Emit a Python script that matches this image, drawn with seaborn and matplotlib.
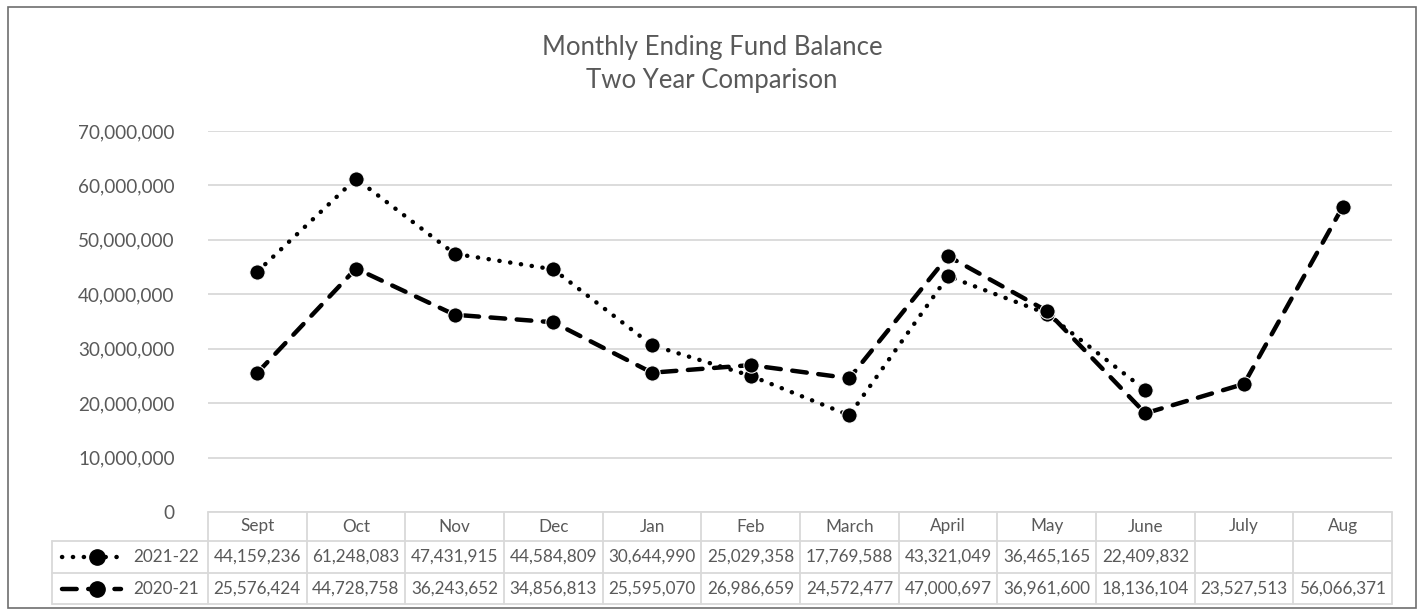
import numpy as np
import pandas as pd
import matplotlib
matplotlib.use("Agg")
import matplotlib.pyplot as plt
import matplotlib.transforms as mtransforms
from matplotlib.patches import Rectangle
from matplotlib.ticker import FuncFormatter, MultipleLocator
import seaborn as sns

months = ["Sept", "Oct", "Nov", "Dec", "Jan", "Feb", "March", "April", "May", "June", "July", "Aug"]
fy2122 = [44159236, 61248083, 47431915, 44584809, 30644990, 25029358, 17769588,
          43321049, 36465165, 22409832, np.nan, np.nan]
fy2021 = [25576424, 44728758, 36243652, 34856813, 25595070, 26986659, 24572477,
          47000697, 36961600, 18136104, 23527513, 56066371]
series_names = ["2021-22", "2020-21"]
title_lines = ["Monthly Ending Fund Balance", "Two Year Comparison"]

sns.set_theme(style="white")
plt.rcParams["font.family"] = ["Lato", "DejaVu Sans"]

TXT = "#595959"
GRID = "#D9D9D9"

df = pd.DataFrame({
    "month": months * 2,
    "idx": list(range(len(months))) * 2,
    "value": fy2122 + fy2021,
    "series": [series_names[0]] * len(months) + [series_names[1]] * len(months),
})

W, H = 1425, 616
fig = plt.figure(figsize=(W / 100, H / 100), dpi=100)

# overlay axes in pixel coordinates
tax = fig.add_axes([0, 0, 1, 1])
tax.set_xlim(0, W)
tax.set_ylim(H, 0)
tax.axis("off")

x0, x1, ytop, ybot = 208, 1392, 131, 512
ax = fig.add_axes([x0 / W, (H - ybot) / H, (x1 - x0) / W, (ybot - ytop) / H])

dash_map = {series_names[0]: (0.05, 2.4), series_names[1]: (3.3, 2.6)}
sns.lineplot(data=df, x="idx", y="value", hue="series", style="series",
             dashes=dash_map, markers={s: "o" for s in series_names},
             palette={s: "black" for s in series_names},
             linewidth=3.2, markersize=11, dash_capstyle="round",
             legend=False, ax=ax, clip_on=False, zorder=3)

ax.set_xlim(-0.5, len(months) - 0.5)
ax.set_ylim(0, 70_000_000)
ax.yaxis.set_major_locator(MultipleLocator(10_000_000))
ax.yaxis.set_major_formatter(FuncFormatter(lambda v, p: f"{int(v):,}"))
ax.set_xticks([])
ax.set_xlabel("")
ax.set_ylabel("")
ax.grid(axis="y", color=GRID, linewidth=1.3)
ax.set_axisbelow(True)
for s in ax.spines.values():
    s.set_visible(False)
ax.tick_params(axis="y", length=0, pad=24, labelsize=13.6, labelcolor=TXT)
ax.patch.set_alpha(0)

# title
tax.text(712, 55, title_lines[0], ha="center", va="baseline", fontsize=18.5, color=TXT)
tax.text(712, 88, title_lines[1], ha="center", va="baseline", fontsize=18.5, color=TXT)

# outer border
tax.add_patch(Rectangle((8, 7), 1408, 601, fill=False, edgecolor="#6e6e6e", linewidth=1.2))

# data table
tr = mtransforms.blended_transform_factory(ax.transData, tax.transData)
n = len(months)
r0, r1, r2, r3 = 512, 541, 573, 604
lx = 52
lc = dict(color=GRID, linewidth=1.3)
tax.plot([-0.5, n - 0.5], [r0, r0], transform=tr, **lc)
for yy in (r1, r2, r3):
    tax.plot([lx, x1], [yy, yy], **lc)
for i in range(n + 1):
    tax.plot([i - 0.5, i - 0.5], [r0, r3], transform=tr, **lc)
tax.plot([lx, lx], [r1, r3], **lc)

fs_tab = 12.3
for i, m in enumerate(months):
    tax.text(i, (r0 + r1) / 2, m, ha="center", va="center", fontsize=fs_tab, color=TXT, transform=tr)
for row_y, vals in (((r1 + r2) / 2, fy2122), ((r2 + r3) / 2, fy2021)):
    for i, v in enumerate(vals):
        if not np.isnan(v):
            tax.text(i, row_y, f"{int(v):,}", ha="center", va="center", fontsize=fs_tab,
                     color=TXT, transform=tr)

# legend keys
for (row_y, name) in (((r1 + r2) / 2, series_names[0]), ((r2 + r3) / 2, series_names[1])):
    tax.plot([62, 121], [row_y, row_y], color="black", linewidth=3.2,
             dashes=dash_map[name], dash_capstyle="round")
    tax.plot([97], [row_y], marker="o", color="black", markersize=11)
    tax.text(199, row_y, name, ha="right", va="center", fontsize=fs_tab, color=TXT)

fig.savefig("out.png", dpi=100)
